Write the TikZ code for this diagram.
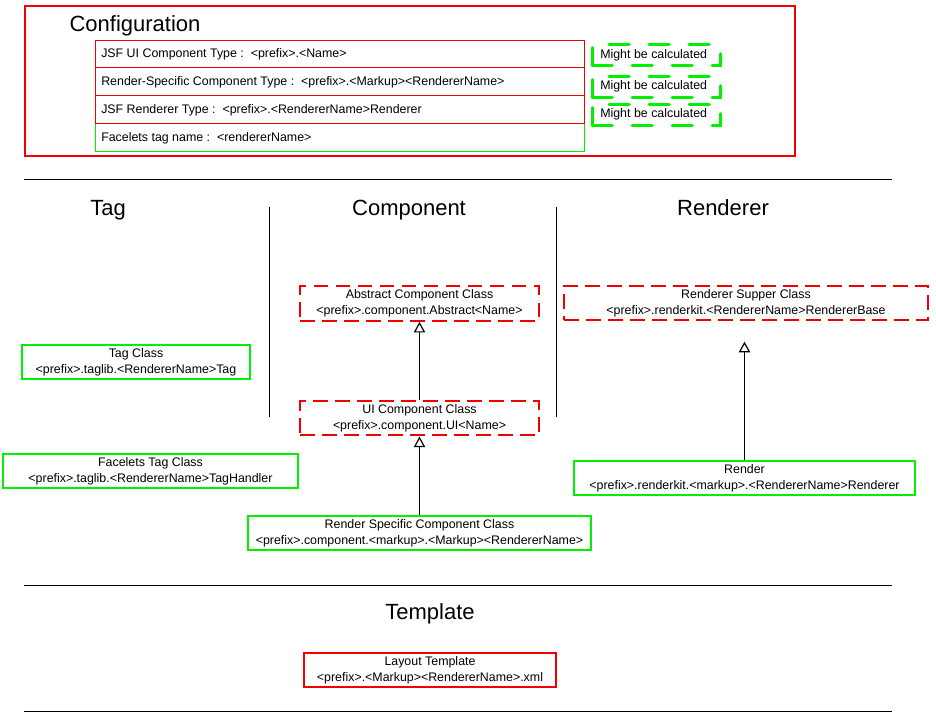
\documentclass[tikz,border=0pt]{standalone}
\usepackage{fontspec}
\setmainfont{Liberation Sans}
\usetikzlibrary{arrows.meta}
\definecolor{gr}{RGB}{0,240,0}
\definecolor{rd}{RGB}{240,0,0}
\tikzset{
  x=0.75pt, y=-0.75pt,
  txt/.style={font=\fontsize{9.3pt}{12pt}\selectfont, align=center, inner sep=0pt},
  cell/.style={draw, line width=0.75pt, anchor=north west, minimum width=367pt, minimum height=21pt, inner sep=0pt},
  rowtxt/.style={font=\fontsize{9.3pt}{11pt}\selectfont, anchor=base west, inner sep=0pt},
  greenbox/.style={draw=gr, line width=1.5pt, inner sep=0pt},
  redbox/.style={draw=rd, line width=1.5pt, inner sep=0pt},
  dredbox/.style={draw=rd, line width=1.5pt, dash pattern=on 11pt off 5.5pt, inner sep=0pt},
  dgreenbox/.style={draw=gr, line width=2.5pt, line cap=round, dash pattern=on 15pt off 15pt, inner sep=0pt, minimum width=96pt, minimum height=15.75pt, anchor=north west},
  heading/.style={font=\fontsize{16.5pt}{19pt}\selectfont, inner sep=0pt, anchor=base},
  sep/.style={line width=0.75pt},
  inh/.style={line width=0.9pt, -{Triangle[open, length=8pt, width=8.5pt]}},
}
\begin{document}
\begin{tikzpicture}
\useasboundingbox (0,0) rectangle (936,727);
% Configuration frame
\node[redbox, minimum width=577.5pt, minimum height=112.5pt, anchor=north west] (conf) at (24,5) {};
\node[heading] (conft) at (135,31.5) {Configuration};
\node[cell, draw=gr] (r4) at (95,123) {};
\node[cell, draw=rd, minimum height=20.25pt] (r1) at (95,40) {};
\node[cell, draw=rd] (r2) at (95,67) {};
\node[cell, draw=rd] (r3) at (95,95) {};
\node[rowtxt] (t1) at (101,58) {JSF UI Component Type :\ \ <prefix>.<Name>};
\node[rowtxt] (t2) at (101,86) {Render-Specific Component Type :\ \ <prefix>.<Markup><RendererName>};
\node[rowtxt] (t3) at (101,114) {JSF Renderer Type :\ \ <prefix>.<RendererName>Renderer};
\node[rowtxt] (t4) at (101,142) {Facelets tag name :\ \ <rendererName>};
\node[dgreenbox] (m1) at (590.5,43) {};
\node[rowtxt] (mt1) at (600,58.5) {Might be calculated};
\node[dgreenbox] (m2) at (590.5,75) {};
\node[rowtxt] (mt2) at (600,90) {Might be calculated};
\node[dgreenbox] (m3) at (590.5,103) {};
\node[rowtxt] (mt3) at (600,118) {Might be calculated};
% separators
\coordinate (l1a) at (24,180); \coordinate (l1b) at (892,180);
\draw[sep] (l1a) -- (l1b);
\coordinate (l2a) at (24,585); \coordinate (l2b) at (892,585);
\draw[sep] (l2a) -- (l2b);
\coordinate (l3a) at (24,711); \coordinate (l3b) at (892,711);
\draw[sep] (l3a) -- (l3b);
\coordinate (v1a) at (269,207); \coordinate (v1b) at (269,417);
\draw[sep] (v1a) -- (v1b);
\coordinate (v2a) at (556,207); \coordinate (v2b) at (556,417);
\draw[sep] (v2a) -- (v2b);
% headings
\node[heading] (htag) at (108,216) {Tag};
\node[heading] (hcomp) at (409,216) {Component};
\node[heading] (hrend) at (723,216) {Renderer};
\node[heading] (htpl) at (430,619) {Template};
% class boxes
\node[dredbox, minimum width=179pt, minimum height=26pt, txt] (abs) at (419.5,303.5) {Abstract Component Class\\<prefix>.component.Abstract<Name>};
\node[dredbox, minimum width=179pt, minimum height=25.5pt, txt] (ui) at (419.5,418.5) {UI Component Class\\<prefix>.component.UI<Name>};
\node[dredbox, minimum width=273pt, minimum height=25.5pt, txt] (rsup) at (746,303) {Renderer Supper Class\\<prefix>.renderkit.<RendererName>RendererBase};
\node[greenbox, minimum width=171pt, minimum height=25.5pt, txt] (tag) at (136,362) {Tag Class\\<prefix>.taglib.<RendererName>Tag};
\node[greenbox, minimum width=221pt, minimum height=25.5pt, txt] (ftag) at (150.5,471) {Facelets Tag Class\\<prefix>.taglib.<RendererName>TagHandler};
\node[greenbox, minimum width=255.5pt, minimum height=25.5pt, txt] (rend) at (744.5,478) {Render\\<prefix>.renderkit.<markup>.<RendererName>Renderer};
\node[greenbox, minimum width=257pt, minimum height=26pt, txt] (rsc) at (419.5,533) {Render Specific Component Class\\<prefix>.component.<markup>.<Markup><RendererName>};
\node[redbox, minimum width=189pt, minimum height=25.5pt, txt] (lay) at (430,670) {Layout Template\\<prefix>.<Markup><RendererName>.xml};
% inheritance
\draw[inh] (ui.north) -- (abs.south);
\draw[inh] (rsc.north) -- (ui.south);
\draw[inh, shorten >=15.5pt] (rend.north) -- (rend.north |- rsup.south);
\end{tikzpicture}
\end{document}
